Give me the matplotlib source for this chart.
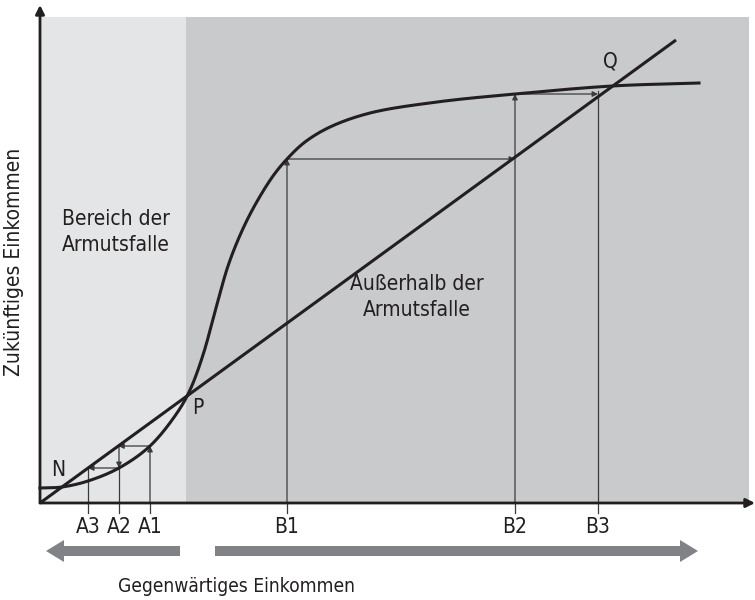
import numpy as np
import matplotlib
matplotlib.use('Agg')
import matplotlib.pyplot as plt
from matplotlib.patches import Rectangle, FancyArrow

plt.rcParams['font.family'] = ['DejaVu Sans']
plt.rcParams['font.stretch'] = 'condensed'

# traced curve: future income as a function of current income
curve_x = [0, 22, 48, 79, 110, 137, 150, 163, 176, 188, 201, 215, 233, 247, 265,
           290, 330, 397, 475, 572, 659]
curve_y = [15, 16, 22, 35, 57, 90, 113, 148, 195, 237, 270, 298, 327, 344, 361,
           376, 390, 401, 409, 417, 420]

# line future = current income (in picture units)
line_x = [0, 636]
line_y = [0, 463]

a_labels = ['A1', 'A2', 'A3']
a_pos = [110, 79, 48]
b_labels = ['B1', 'B2', 'B3']
b_pos = [247, 475, 558]

trap_edge = 146      # end of the poverty trap zone
zone_right = 709
zone_top = 486

dark = '#231f20'
thin = '#3c3a3b'


def smooth(xs, ys, n=30, alpha=0.5):
    # centripetal Catmull-Rom through the traced points, for drawing only
    p = np.column_stack([xs, ys]).astype(float)
    p = np.vstack([2 * p[0] - p[1], p, 2 * p[-1] - p[-2]])
    out = []
    for i in range(1, len(p) - 2):
        p0, p1, p2, p3 = p[i - 1], p[i], p[i + 1], p[i + 2]
        t0 = 0.0
        t1 = t0 + np.linalg.norm(p1 - p0) ** alpha
        t2 = t1 + np.linalg.norm(p2 - p1) ** alpha
        t3 = t2 + np.linalg.norm(p3 - p2) ** alpha
        t = np.linspace(t1, t2, n, endpoint=False)[:, None]
        a1 = (t1 - t) / (t1 - t0) * p0 + (t - t0) / (t1 - t0) * p1
        a2 = (t2 - t) / (t2 - t1) * p1 + (t - t1) / (t2 - t1) * p2
        a3 = (t3 - t) / (t3 - t2) * p2 + (t - t2) / (t3 - t2) * p3
        b1 = (t2 - t) / (t2 - t0) * a1 + (t - t0) / (t2 - t0) * a2
        b2 = (t3 - t) / (t3 - t1) * a2 + (t - t1) / (t3 - t1) * a3
        out.append((t2 - t) / (t2 - t1) * b1 + (t - t1) / (t2 - t1) * b2)
    out.append(p[-2][None, :])
    out = np.vstack(out)
    return out[:, 0], out[:, 1]


slope = (line_y[1] - line_y[0]) / (line_x[1] - line_x[0])


def curve_at(x):
    return np.interp(x, curve_x, curve_y)


fig = plt.figure(figsize=(7.55, 6.0), dpi=100)
ax = fig.add_axes([0, 0, 1, 1])
ax.set_xlim(-40, 715)
ax.set_ylim(-97, 503)
ax.axis('off')

# background zones
ax.add_patch(Rectangle((0, 0), trap_edge, zone_top, color='#e4e5e6', lw=0, zorder=0))
ax.add_patch(Rectangle((trap_edge, 0), zone_right - trap_edge, zone_top, color='#c9cacc', lw=0, zorder=0))

# axes with arrow heads
ax.annotate('', xy=(715, 0), xytext=(0, 0),
            arrowprops=dict(arrowstyle='-|>', color=dark, lw=2, mutation_scale=13, shrinkA=0, shrinkB=0))
ax.annotate('', xy=(0, 498), xytext=(0, 0),
            arrowprops=dict(arrowstyle='-|>', color=dark, lw=2, mutation_scale=13, shrinkA=0, shrinkB=0))

# 45 degree line and curve
ax.plot(line_x, line_y, color=dark, lw=2.2, solid_capstyle='butt', zorder=3)
sx, sy = smooth(curve_x, curve_y)
ax.plot(sx, sy, color=dark, lw=2.2, zorder=3)


def arrow(x0, y0, x1, y1):
    ax.annotate('', xy=(x1, y1), xytext=(x0, y0),
                arrowprops=dict(arrowstyle='-|>', color=thin, lw=0.9, mutation_scale=8,
                                shrinkA=0, shrinkB=0), zorder=2)


def seg(x0, y0, x1, y1):
    ax.plot([x0, x1], [y0, y1], color=thin, lw=0.9, zorder=2)


# left cobweb: A1 -> A2 -> A3 (falling towards N)
y1 = curve_at(a_pos[0])
seg(a_pos[0], -10, a_pos[0], 0)
arrow(a_pos[0], 0, a_pos[0], y1)
arrow(a_pos[0], y1, y1 / slope, y1)
y2 = curve_at(a_pos[1])
seg(a_pos[1], -10, a_pos[1], y2)
arrow(a_pos[1], y1, a_pos[1], y2)
arrow(a_pos[1], y2, y2 / slope, y2)
seg(a_pos[2], -10, a_pos[2], y2)

# right cobweb: B1 -> B2 -> B3 (rising towards Q)
yb1 = curve_at(b_pos[0])
seg(b_pos[0], -10, b_pos[0], 0)
arrow(b_pos[0], 0, b_pos[0], yb1)
arrow(b_pos[0], yb1, b_pos[1], yb1)
yb2 = curve_at(b_pos[1])
seg(b_pos[1], -10, b_pos[1], 0)
arrow(b_pos[1], 0, b_pos[1], yb2)
arrow(b_pos[1], yb2, b_pos[2], yb2)
seg(b_pos[2], -10, b_pos[2], yb2 + 3)

fs = 15
for lab, x in zip(a_labels + b_labels, a_pos + b_pos):
    ax.text(x, -24, lab, ha='center', va='center', fontsize=fs, color=dark)

ax.text(18, 33, 'N', ha='center', va='center', fontsize=fs, color=dark)
ax.text(158, 95, 'P', ha='center', va='center', fontsize=fs, color=dark)
ax.text(570, 441, 'Q', ha='center', va='center', fontsize=fs, color=dark)

ax.text(22, 271, 'Bereich der\nArmutsfalle', ha='left', va='center', fontsize=fs,
        color=dark, linespacing=1.4)
ax.text(377, 206, 'Außerhalb der\nArmutsfalle', ha='center', va='center', fontsize=fs,
        color=dark, linespacing=1.4)

# direction arrows below the axis
ax.add_patch(FancyArrow(140, -48, -134, 0, width=10, head_width=22, head_length=18,
                        length_includes_head=True, color='#808285', lw=0))
ax.add_patch(FancyArrow(175, -48, 483, 0, width=10, head_width=22, head_length=18,
                        length_includes_head=True, color='#808285', lw=0))

ax.text(197, -84, 'Gegenwärtiges Einkommen', ha='center', va='center', fontsize=13.8, color=dark)
ax.text(-26, 241, 'Zukünftiges Einkommen', ha='center', va='center', rotation=90,
        fontsize=fs, color=dark)

fig.savefig('out.png', dpi=100)
